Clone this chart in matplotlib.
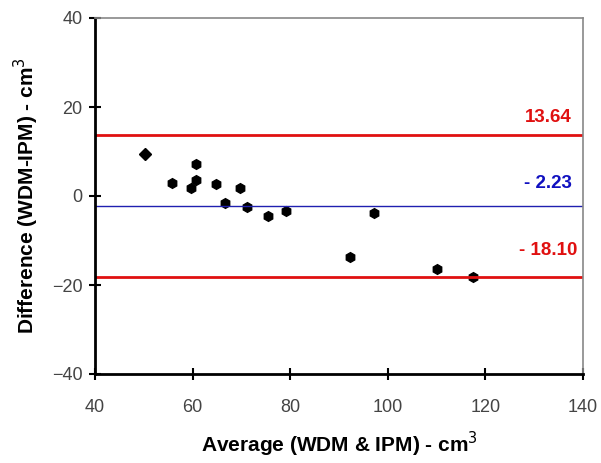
import matplotlib
matplotlib.use("Agg")
import matplotlib.pyplot as plt

avg = [50.2, 55.7, 60.6, 60.6, 59.6, 64.8, 69.7, 66.6, 71.1, 75.5, 79.1, 97.1, 92.3, 110.0, 117.4]
diff = [9.35, 2.9, 7.2, 3.5, 1.8, 2.7, 1.8, -1.5, -2.4, -4.4, -3.3, -3.9, -13.8, -16.3, -18.2]
upper = 13.64
mean = -2.23
lower = -18.10
xticks = [40, 60, 80, 100, 120, 140]
yticks = [-40, -20, 0, 20, 40]

plt.rcParams['font.family'] = ['Liberation Sans', 'DejaVu Sans']

fig = plt.figure(figsize=(6.01, 4.63), dpi=100)
ax = fig.add_axes([95 / 601, 1 - 374 / 463, (583 - 95) / 601, (374 - 18) / 463])

markers = ['D'] + ['h'] * (len(avg) - 1)
for x, y, m in zip(avg, diff, markers):
    ax.plot(x, y, linestyle='none', marker=m, color='black', markersize=6.5 if m == 'D' else 7)

ax.axhline(upper, color='#e01010', linewidth=2)
ax.axhline(lower, color='#e01010', linewidth=2)
ax.axhline(mean, color='#2020b0', linewidth=1)

ax.text(132.8, upper + 4, f"{upper:.2f}", color='#e01010', fontsize=13.5, fontweight='bold', ha='center', va='center')
ax.text(132.8, mean + 5, f"- {abs(mean):.2f}", color='#1010c0', fontsize=13.5, fontweight='bold', ha='center', va='center')
ax.text(132.8, lower + 5.8, f"- {abs(lower):.2f}", color='#e01010', fontsize=13.5, fontweight='bold', ha='center', va='center')

ax.set_xlim(40, 140)
ax.set_ylim(-40, 40)
ax.set_xticks(xticks)
ax.set_yticks(yticks)
ax.tick_params(direction='inout', length=8, width=1.5, labelsize=13, labelcolor='#444444')
ax.tick_params(axis='x', pad=14)
ax.tick_params(axis='y', pad=5)
for s in ['left', 'bottom']:
    ax.spines[s].set_linewidth(2)
    ax.spines[s].set_color('black')
for s in ['top', 'right']:
    ax.spines[s].set_linewidth(1.2)
    ax.spines[s].set_color('#888888')

ax.set_xlabel("Average (WDM & IPM) - cm$^3$", fontsize=15, fontweight='bold', labelpad=10)
ax.set_ylabel("Difference (WDM-IPM) - cm$^3$", fontsize=15, fontweight='bold', labelpad=8)

fig.savefig("out.png", dpi=100)
